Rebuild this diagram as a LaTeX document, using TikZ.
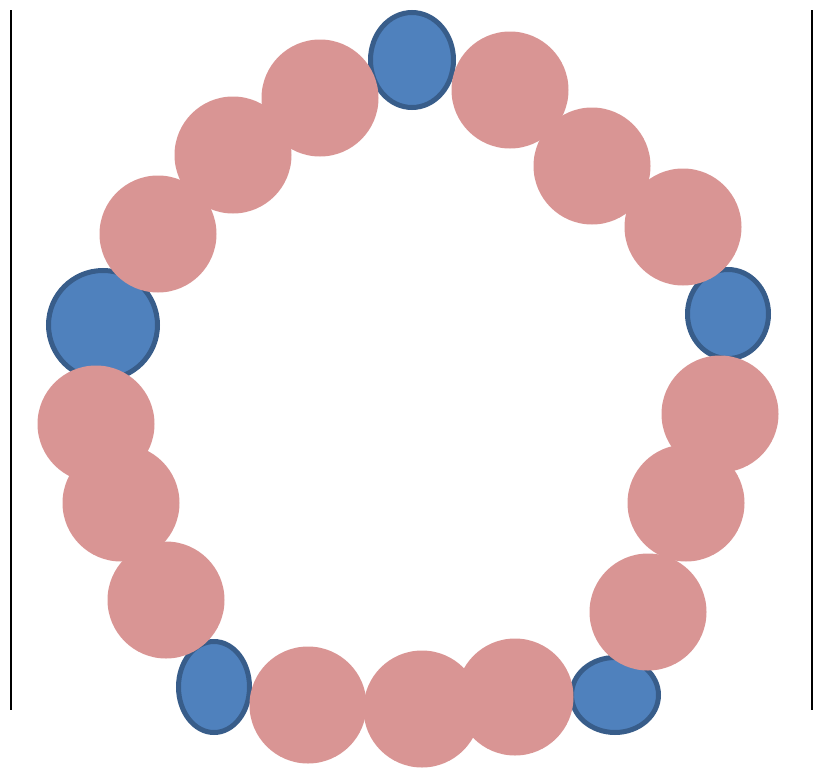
\documentclass[tikz,border=0pt]{standalone}
\usepackage{tikz}
\usetikzlibrary{shapes.geometric}
\definecolor{BeadPink}{RGB}{217,149,148}
\definecolor{BeadBlue}{RGB}{79,129,189}
\definecolor{BeadEdge}{RGB}{56,93,138}

\begin{document}
\begin{tikzpicture}[x=1pt,y=-1pt,
  pinkbead/.style={circle,fill=BeadPink,minimum size=117pt,inner sep=0pt},
  bluebead/.style={ellipse,draw=BeadEdge,line width=5pt,fill=BeadBlue,inner sep=0pt}]
\useasboundingbox (0,0) rectangle (817,771);
\coordinate (wl1) at (11,10);\coordinate (wl2) at (11,710);\coordinate (wr1) at (812,10);\coordinate (wr2) at (812,710);
\draw[line width=1.8pt] (wl1) -- (wl2);\draw[line width=1.8pt] (wr1) -- (wr2);
% blue beads
\node[bluebead,minimum width=83pt,minimum height=95pt] (b1) at (412,60) {};
\node[bluebead,minimum width=109pt,minimum height=109pt] (b2) at (103,325) {};
\node[bluebead,minimum width=81pt,minimum height=89pt] (b3) at (728,314) {};
\node[bluebead,minimum width=71pt,minimum height=91pt] (b4) at (214,687) {};
\node[bluebead,minimum width=87pt,minimum height=75pt] (b5) at (615,695) {};
% pink beads
\foreach \i/\x/\y in {1/320/98,2/233/155,3/158/234,4/96/424,5/121/503,6/166/600,7/308/705,8/422/709,9/515/697,10/648/612,11/686/503,12/720/414,13/683/227,14/592/166,15/510/90}
  \node[pinkbead] (p\i) at (\x,\y) {};
\end{tikzpicture}
\end{document}
